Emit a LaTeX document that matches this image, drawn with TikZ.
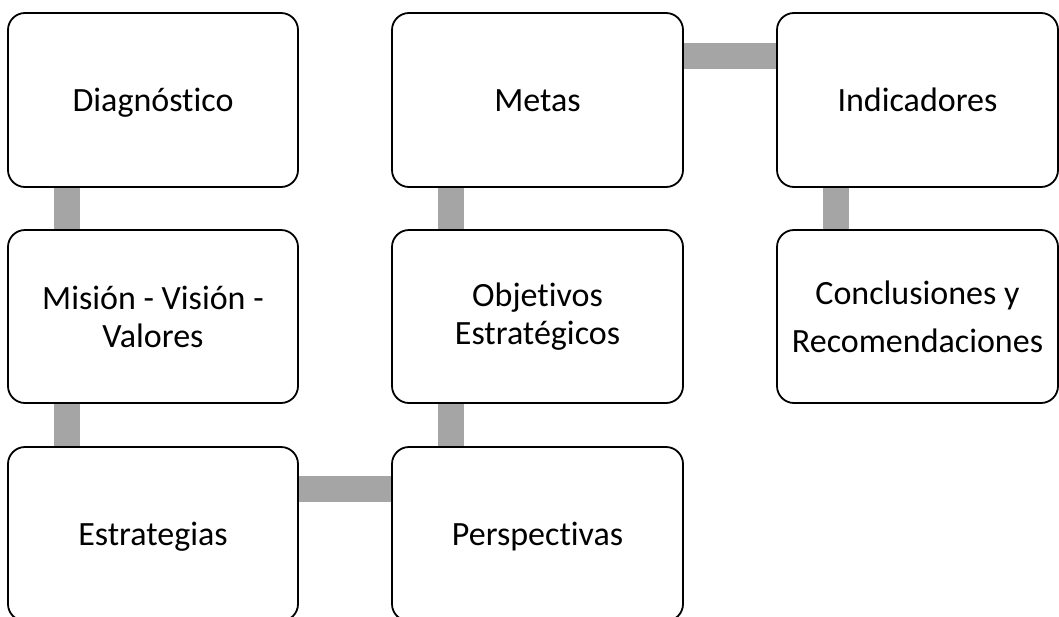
\documentclass[tikz,border=0pt]{standalone}
\usepackage{fontspec}
\setmainfont{Carlito}[RawFeature={-liga;-clig;-calt;-dlig;-hlig}]
\usetikzlibrary{positioning,backgrounds}

\tikzset{
    caja/.style={draw=black, line width=1.8pt, rounded corners=17pt, fill=white,
        align=center, inner sep=0pt, font=\fontsize{34}{38}\selectfont},
    unalinea/.style={text height=22pt, text depth=0pt},
    barra/.style={draw=barragris, line width=26pt}
}
\definecolor{barragris}{HTML}{A5A5A5}

\begin{document}
\begin{tikzpicture}[x=1pt,y=-1pt]
        \useasboundingbox (0,0) rectangle (1059,616);

        % first column
        \node[caja, unalinea, minimum width=290pt, minimum height=174pt] (diag) at (153,100) {Diagnóstico};
        \node[caja, minimum width=290pt, minimum height=173pt] (mision) at (153,316.5) {Misión - Visión -\\Valores};
        \node[caja, unalinea, minimum width=290pt, minimum height=174pt] (estr) at (153,534) {Estrategias};

        % second column
        \node[caja, unalinea, minimum width=291pt, minimum height=174pt] (metas) at (537.5,100) {Metas};
        \node[caja, minimum width=291pt, minimum height=173pt] (obj) at (537.5,316.5) {Objetivos\\Estratégicos};
        \node[caja, unalinea, minimum width=291pt, minimum height=174pt] (pers) at (537.5,534) {Perspectivas};

        % third column
        \node[caja, unalinea, minimum width=281pt, minimum height=174pt] (ind) at (917.5,100) {Indicadores};
        \node[caja, minimum width=281pt, minimum height=173pt] (concl) at (917.5,316.5) {Conclusiones y\\[10pt]Recomendaciones};

        % gray bars behind the boxes
        \begin{scope}[on background layer]
            \foreach \a/\b in {diag/mision, mision/estr, metas/obj, obj/pers, ind/concl} {
                \draw[barra] ([xshift=60pt]\a.south west) -- ([xshift=60pt]\b.north west);
            }
            \draw[barra] ([yshift=-43pt]estr.north east) -- ([yshift=-43pt]pers.north west);
            \draw[barra] ([yshift=-44pt]metas.north east) -- ([yshift=-44pt]ind.north west);
        \end{scope}

\end{tikzpicture}
\end{document}
